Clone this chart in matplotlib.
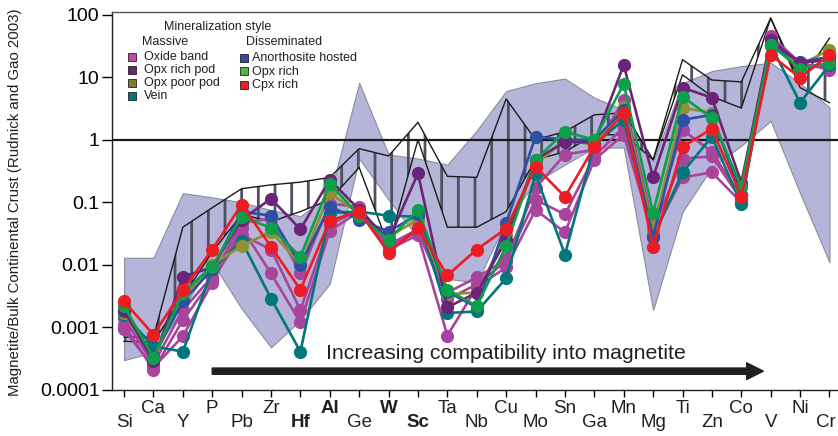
import numpy as np
import matplotlib
matplotlib.use("Agg")
import matplotlib.pyplot as plt
from matplotlib.patches import Rectangle

plt.rcParams['font.family'] = ['Liberation Sans', 'DejaVu Sans']
plt.rcParams['hatch.linewidth'] = 2.0

elements = ["Si", "Ca", "Y", "P", "Pb", "Zr", "Hf", "Al", "Ge", "W", "Sc", "Ta", "Nb",
            "Cu", "Mo", "Sn", "Ga", "Mn", "Mg", "Ti", "Zn", "Co", "V", "Ni", "Cr"]
bold_elements = ["Hf", "Al", "W", "Sc"]

# shaded reference field (upper / lower)
field_upper = [0.013, 0.013, 0.14, 0.12, 0.10, 0.075, 0.06, 0.13, 8.1, 0.58, 0.50, 0.40, 1.4,
               6.0, 8.0, 9.5, 4.7, 3.0, 0.45, 8.0, 12.5, 15.0, 17.0, 8.0, 3.3]
field_lower = [0.0003, 0.0004, 0.002, 0.011, 0.002, 0.00048, 0.0013, 0.005, 0.5, 0.11, 0.027, 0.006, 0.0052,
               0.05, 0.21, 0.4, 0.75, 0.75, 0.0019, 0.07, 0.36, 0.8, 2.0, 0.14, 0.011]

# hatched reference field (upper / lower)
hatch_upper = [0.0007, 0.0007, 0.04, 0.082, 0.165, 0.19, 0.21, 0.25, 0.72, 0.55, 1.9, 0.26, 0.25,
               4.5, 1.0, 1.35, 2.5, 2.7, 0.48, 19, 9.0, 8.4, 88, 8.4, 42]
hatch_lower = [0.0006, 0.00058, 0.0031, 0.016, 0.064, 0.049, 0.071, 0.11, 0.36, 0.02, 1.0, 0.04, 0.04,
               0.071, 0.48, 0.64, 1.2, 1.2, 0.48, 10.9, 4.9, 3.2, 88, 6.8, 3.9]

oxide_band_1 = [0.0014, 0.00026, 0.0019, 0.0065, 0.047, 0.055, 0.0073, 0.095, 0.085, 0.021, 0.037, 0.0036, 0.0063,
                0.0122, 0.17, 0.58, 0.69, 4.35, 0.044, 1.44, 0.64, 0.119, 45.7, 16.9, 13.1]
oxide_band_2 = [0.0011, 0.00021, 0.0013, 0.0058, 0.030, 0.0176, 0.0019, 0.044, 0.076, 0.019, 0.034, 0.0028, 0.0049,
                0.0114, 0.11, 0.064, 0.54, 1.61, 0.037, 0.50, 0.54, 0.11, 39.4, 15.2, 15.7]
oxide_band_3 = [0.00093, 0.00023, 0.00072, 0.0052, 0.039, 0.0073, 0.0012, 0.035, 0.071, 0.0176, 0.030, 0.00074, 0.0044,
                0.0091, 0.076, 0.033, 0.48, 1.2, 0.030, 0.25, 0.30, 0.10, 32.8, 15.7, 14.1]
vein = [0.0016, 0.0005, 0.00041, 0.0085, 0.024, 0.0029, 0.00041, 0.068, 0.071, 0.061, 0.059, 0.0017, 0.0018,
        0.0061, 0.28, 0.0146, 0.83, 2.1, 0.028, 0.30, 1.12, 0.093, 32.8, 3.9, 15.7]
opx_poor_pod = [0.0017, 0.00031, 0.003, 0.0101, 0.020, 0.034, 0.0101, 0.14, 0.066, 0.028, 0.053, 0.0034, 0.0036,
                0.030, 0.40, 1.0, 0.83, 3.36, 0.037, 3.24, 2.7, 0.13, 36, 15.7, 27.3]
anorthosite = [0.0018, 0.00035, 0.0026, 0.0085, 0.071, 0.061, 0.0101, 0.085, 0.053, 0.034, 0.064, 0.0037, 0.0021,
               0.047, 1.12, 1.0, 1.0, 3.0, 0.028, 2.08, 2.5, 0.13, 32.8, 17.6, 21]
opx_rich_pod = [0.0019, 0.00029, 0.0065, 0.0091, 0.053, 0.114, 0.037, 0.23, 0.076, 0.025, 0.29, 0.0021, 0.0036,
                0.025, 0.48, 0.93, 0.9, 15.7, 0.25, 6.8, 4.68, 0.206, 39.4, 16.9, 19]
opx_rich = [0.0022, 0.00033, 0.0036, 0.0094, 0.059, 0.039, 0.0136, 0.198, 0.061, 0.025, 0.076, 0.004, 0.0022,
            0.020, 0.48, 1.34, 1.0, 7.8, 0.068, 4.85, 2.24, 0.178, 32.8, 13.6, 16.9]
cpx_rich = [0.0026, 0.00077, 0.0039, 0.0176, 0.092, 0.0196, 0.004, 0.051, 0.071, 0.0157, 0.039, 0.0068, 0.0176,
            0.038, 0.37, 0.123, 0.77, 2.7, 0.0196, 0.77, 1.5, 0.123, 22.7, 9.8, 22.7]

c_oxide = "#a9449c"
c_opxpod = "#6b2478"
c_poor = "#8f8f34"
c_vein = "#00777a"
c_anor = "#2c50a4"
c_opx = "#0e9f4b"
c_cpx = "#ec1c24"

series = [
    (oxide_band_1, c_oxide), (oxide_band_2, c_oxide), (oxide_band_3, c_oxide),
    (vein, c_vein), (opx_poor_pod, c_poor), (anorthosite, c_anor),
    (opx_rich_pod, c_opxpod), (opx_rich, c_opx), (cpx_rich, c_cpx),
]

fig = plt.figure(figsize=(8.38, 4.36), dpi=100)
ax = fig.add_axes([112/838, 1-390/436, 1-112/838, (390-12)/436])
x = np.arange(len(elements))

ax.fill_between(x, field_lower, field_upper, facecolor="#b4b5d8", edgecolor="#8c8c9c", linewidth=0.8, zorder=1)
ax.fill_between(x, hatch_lower, hatch_upper, facecolor="none", edgecolor="#50505e", hatch="|", linewidth=0, zorder=2)
ax.plot(x, hatch_upper, color="#1a1a1a", lw=1.0, zorder=3)
ax.plot(x, hatch_lower, color="#1a1a1a", lw=1.0, zorder=3)
ax.axhline(1, color="#1a1a1a", lw=1.6, zorder=3)

for vals, col in series:
    ax.plot(x, vals, color=col, lw=1.9, marker="o", ms=8.5, mec=col, mfc=col, zorder=5)

ax.set_yscale("log")
ax.set_ylim(1e-4, 110)
ax.set_xlim(-0.41, 24.29)
ax.set_yticks([1e-4, 1e-3, 1e-2, 1e-1, 1, 10, 100])
ax.set_yticklabels(["0.0001", "0.001", "0.01", "0.1", "1", "10", "100"], fontsize=14)
ax.yaxis.set_minor_locator(matplotlib.ticker.NullLocator())
ax.tick_params(axis="y", direction="out", length=7, width=1, pad=2)
ax.set_xticks(x)
ax.set_xticklabels([])
ax.tick_params(axis="x", direction="out", length=5, width=1)
ax.spines["right"].set_visible(False)
for s in ["left", "bottom", "top"]:
    ax.spines[s].set_linewidth(1.0)
    ax.spines[s].set_color("#231f20")
ax.spines["top"].set_color("#555555")

for i, el in enumerate(elements):
    yy = -0.050 if i % 2 == 1 else -0.087
    xx = i - 0.12 if el == "Cr" else i
    ax.text(xx, yy, el, transform=ax.get_xaxis_transform(), ha="center", va="center", fontsize=13.5,
            fontweight="bold" if el in bold_elements else "normal", color="#231f20")

fig.text(15/838, 1-202/436, "Magnetite/Bulk Continental Crust (Rudnick and Gao 2003)", rotation=90,
         ha="center", va="center", fontsize=10.8, color="#231f20")

ax.annotate("", xy=(21.75, 2.0e-4), xytext=(3.0, 2.0e-4),
            arrowprops=dict(arrowstyle="simple,head_length=1.2,head_width=1.2,tail_width=0.45",
                            color="#231f20", shrinkA=0, shrinkB=0, mutation_scale=10), zorder=6)
ax.text(13.0, 3.8e-4, "Increasing compatibility into magnetite", ha="center", va="center",
        fontsize=15.3, color="#231f20", zorder=6)

# legend
def ft(px, py, s, **kw):
    fig.text(px/838, 1-py/436, s, va="center", color="#231f20", **kw)

ft(218, 27, "Mineralization style", ha="center", fontsize=9)
ft(165, 42, "Massive", ha="center", fontsize=9)
ft(246, 42, "Disseminated", ha="left", fontsize=9)
left_items = [("Oxide band", "#c04aa8"), ("Opx rich pod", c_opxpod), ("Opx poor pod", "#7c7c30"), ("Vein", c_vein)]
right_items = [("Anorthosite hosted", c_anor), ("Opx rich", "#4cb848"), ("Cpx rich", c_cpx)]
for k, (lab, col) in enumerate(left_items):
    py = 57 + k * 13
    fig.add_artist(Rectangle((128/838, 1-(py+4)/436), 8/838, 8/436, transform=fig.transFigure,
                             facecolor=col, edgecolor="#231f20", linewidth=0.6))
    ft(144, py, lab, ha="left", fontsize=9)
for k, (lab, col) in enumerate(right_items):
    py = 58 + k * 13.5
    fig.add_artist(Rectangle((240/838, 1-(py+4)/436), 8/838, 8/436, transform=fig.transFigure,
                             facecolor=col, edgecolor="#231f20", linewidth=0.6))
    ft(252, py, lab, ha="left", fontsize=9)

fig.savefig("out.png", dpi=100)
